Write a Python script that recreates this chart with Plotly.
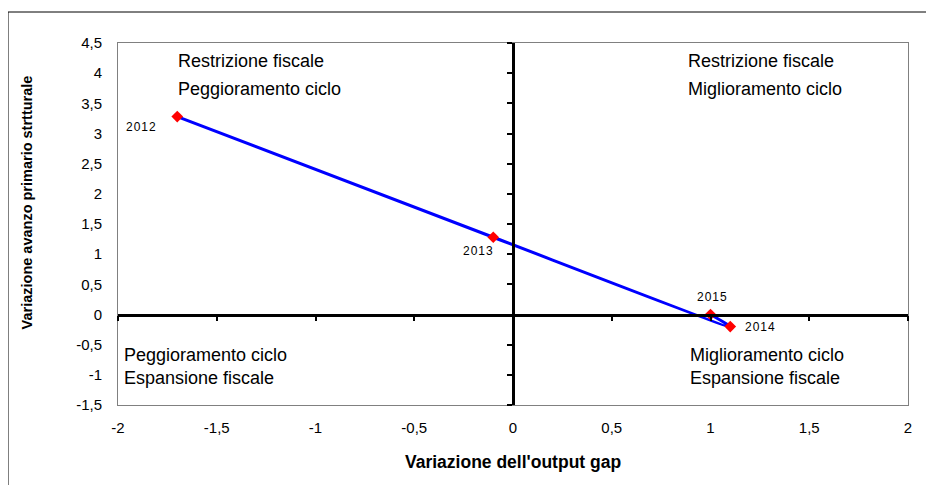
import plotly.graph_objects as go

years = ["2012", "2013", "2014", "2015"]
output_gap_change = [-1.70, -0.10, 1.10, 1.00]
primary_balance_change = [3.28, 1.28, -0.20, 0.00]
label_shifts = [(-36, -10), (-15, -14), (30, 0), (1, 18)]

x_ticks = [-2, -1.5, -1, -0.5, 0, 0.5, 1, 1.5, 2]
x_tick_labels = ["-2", "-1,5", "-1", "-0,5", "0", "0,5", "1", "1,5", "2"]
y_ticks = [-1.5, -1, -0.5, 0, 0.5, 1, 1.5, 2, 2.5, 3, 3.5, 4, 4.5]
y_tick_labels = ["-1,5", "-1", "-0,5", "0", "0,5", "1", "1,5", "2", "2,5", "3", "3,5", "4", "4,5"]

quadrant_lines = [
    ("Restrizione fiscale", -1.706, 4.20),
    ("Peggioramento ciclo", -1.706, 3.74),
    ("Restrizione fiscale", 0.876, 4.20),
    ("Miglioramento ciclo", 0.876, 3.74),
    ("Peggioramento ciclo", -1.98, -0.67),
    ("Espansione fiscale", -1.98, -1.05),
    ("Miglioramento ciclo", 0.886, -0.67),
    ("Espansione fiscale", 0.886, -1.05),
]

FONT = "Liberation Sans, Arial, sans-serif"
HS = "\u200a"

fig = go.Figure()
fig.add_trace(go.Scatter(
    x=output_gap_change, y=primary_balance_change,
    mode="lines+markers",
    line=dict(color="#0000FF", width=3, shape="spline", smoothing=0.6),
    marker=dict(symbol="diamond", color="#FF0000", size=9),
    showlegend=False, cliponaxis=False,
))

for yr, x, y, (dx, dy) in zip(years, output_gap_change, primary_balance_change, label_shifts):
    fig.add_annotation(x=x, y=y, text=HS.join(list(yr)), showarrow=False,
                       xanchor="center", yanchor="middle", xshift=dx, yshift=dy,
                       font=dict(family=FONT, size=12, color="black"))

for txt, x, y in quadrant_lines:
    fig.add_annotation(x=x, y=y, text=txt, showarrow=False, xanchor="left",
                       yanchor="middle",
                       font=dict(family=FONT, size=18, color="black"))

fig.add_annotation(xref="paper", yref="paper", x=-0.115, y=0.56,
                   text="<b>Variazione avanzo primario strtturale</b>",
                   textangle=-90, showarrow=False, xanchor="center", yanchor="middle",
                   font=dict(family=FONT, size=14.5, color="black"))
fig.add_annotation(xref="paper", yref="paper", x=0.5, y=-0.157,
                   text="<b>Variazione dell'output gap</b>",
                   showarrow=False, xanchor="center", yanchor="middle",
                   font=dict(family=FONT, size=17.5, color="black"))

fig.update_layout(
    width=926, height=477,
    margin=dict(l=110, r=26, t=35, b=80),
    paper_bgcolor="white", plot_bgcolor="white",
    font=dict(family=FONT, color="black"),
    xaxis=dict(range=[-2, 2], tickvals=x_ticks, ticktext=x_tick_labels,
               showgrid=False, zeroline=False, showline=True, mirror=True,
               linecolor="#808080", linewidth=1, ticks="outside", ticklen=9,
               tickcolor="rgba(0,0,0,0)", tickfont=dict(size=15)),
    yaxis=dict(range=[-1.5, 4.5], tickvals=y_ticks, ticktext=y_tick_labels,
               showgrid=False, zeroline=False, showline=True, mirror=True,
               linecolor="#808080", linewidth=1, ticks="outside", ticklen=12,
               tickcolor="rgba(0,0,0,0)", tickfont=dict(size=15)),
    xaxis2=dict(range=[-2, 2], overlaying="x", anchor="free", position=0.25,
                tickvals=x_ticks, showticklabels=False, showgrid=False,
                zeroline=False, showline=True, linecolor="black", linewidth=2.5,
                ticks="outside", ticklen=5, tickwidth=2, tickcolor="black"),
    yaxis2=dict(range=[-1.5, 4.5], overlaying="y", anchor="free", position=0.5,
                tickvals=y_ticks, showticklabels=False, showgrid=False,
                zeroline=False, showline=True, linecolor="black", linewidth=2.5,
                ticks="outside", ticklen=5, tickwidth=2, tickcolor="black"),
)

fig.add_trace(go.Scatter(x=[None], y=[None], xaxis="x2", yaxis="y2", showlegend=False))

fig.add_shape(type="rect", xref="paper", yref="paper",
              x0=-110 / 790, x1=1.1, y0=-0.3, y1=393 / 362,
              line=dict(color="black", width=1), layer="below")

fig.write_html("out.html")
